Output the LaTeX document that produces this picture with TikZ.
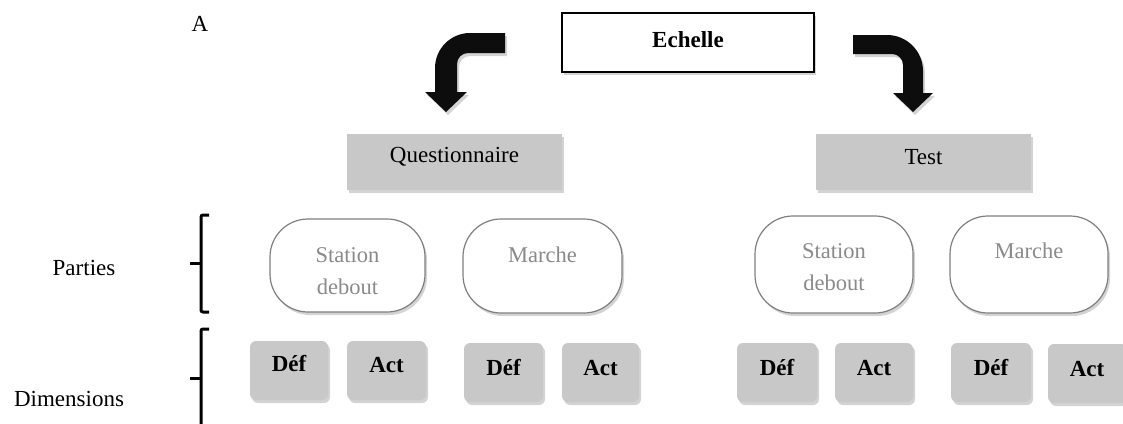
\documentclass[tikz,border=0pt]{standalone}
\usepackage{fontspec}
\setmainfont{Liberation Serif}
\usetikzlibrary{shadows}
\definecolor{boxgray}{HTML}{C8C8C8}
\definecolor{txtgray}{HTML}{8A8A8A}
\definecolor{ovalline}{HTML}{7F7F7F}
\tikzset{
  shd/.style={drop shadow={opacity=0.35,shadow xshift=2pt,shadow yshift=-3pt}},
  lbl/.style={inner sep=0pt,font=\fontsize{23}{27}\selectfont},
  graylbl/.style={inner sep=0pt,text=txtgray,align=center,font=\fontsize{22.5}{32}\selectfont},
  boldlbl/.style={inner sep=0pt,font=\fontsize{23}{27}\selectfont\bfseries},
  topbox/.style={draw=black,line width=2.5pt,fill=white,shd},
  graybox/.style={fill=boxgray,shd},
  ovalbox/.style={draw=ovalline,line width=1.2pt,fill=white,rounded corners=38pt,shd},
  smallbox/.style={fill=boxgray,rounded corners=6pt,shd},
  bentarrow/.style={fill=black!95,shd},
  bracketline/.style={line width=3pt,rounded corners=2pt,line cap=butt}
}
\begin{document}
\begin{tikzpicture}[x=1pt,y=-1pt]
\useasboundingbox (0,0) rectangle (1123,423);
\clip (0,0) rectangle (1123,423);
% top box
\path[topbox] (562,13) rectangle (814,72);
\node[lbl,font=\fontsize{23}{27}\selectfont\bfseries] (echelle) at (688,40) {Echelle};
\node[lbl] (A) at (200,24) {A};
% bent arrows
\path[bentarrow] (505,33) -- (470,33) .. controls (450.7,33) and (435,48.7) .. (435,68)
  -- (435,92) -- (425,92) -- (446,112) -- (467,92) -- (457,92) -- (457,64)
  .. controls (457,57.9) and (461.9,53) .. (468,53) -- (505,53) -- cycle;
\path[bentarrow] (853,35) -- (887,35) .. controls (906.9,35) and (923,51.1) .. (923,71)
  -- (923,93) -- (933,93) -- (913,112) -- (893,93) -- (903,93) -- (903,65)
  .. controls (903,58.9) and (898.1,54) .. (892,54) -- (853,54) -- cycle;
% second level
\path[graybox] (347,134) rectangle (562,190);
\node[lbl] (quest) at (454.5,157) {Questionnaire};
\path[graybox] (816,134) rectangle (1031,190);
\node[lbl] (test) at (923.5,157) {Test};
% ovals
\path[ovalbox] (270,219) rectangle (425,312);
\node[graylbl] (sd1) at (347.5,271) {Station\\debout};
\path[ovalbox] (463,219) rectangle (622,313);
\node[graylbl] (m1) at (542.5,255) {Marche};
\path[ovalbox] (755,216) rectangle (913,313);
\node[graylbl] (sd2) at (834,267) {Station\\debout};
\path[ovalbox] (950,216) rectangle (1108,313);
\node[graylbl] (m2) at (1029,251) {Marche};
% small boxes
\path[smallbox] (250,341) rectangle (328,400);
\node[boldlbl] (d1) at (289,364) {Déf};
\path[smallbox] (347,341) rectangle (426,400);
\node[boldlbl] (a1) at (386.5,365) {Act};
\path[smallbox] (464,343) rectangle (543,402);
\node[boldlbl] (d2) at (503.5,368) {Déf};
\path[smallbox] (562,343) rectangle (639,402);
\node[boldlbl] (a2) at (600.5,368) {Act};
\path[smallbox] (737,343) rectangle (817,402);
\node[boldlbl] (d3) at (777,368) {Déf};
\path[smallbox] (835,343) rectangle (913,402);
\node[boldlbl] (a3) at (874,368) {Act};
\path[smallbox] (951,343) rectangle (1031,402);
\node[boldlbl] (d4) at (991,368) {Déf};
\path[smallbox] (1048,344) rectangle (1127,403);
\node[boldlbl] (a4) at (1087,369) {Act};
% side labels and brackets
\node[lbl] (parties) at (84,268) {Parties};
\node[lbl] (dims) at (69,399) {Dimensions};
\draw[bracketline] (209,215) -- (201,215) -- (201,312) -- (209,312);
\draw[line width=3pt] (201,263) -- (190,263);
\draw[bracketline] (209,329) -- (201,329) -- (201,430);
\draw[line width=3pt] (201,378) -- (190,378);
\end{tikzpicture}
\end{document}
